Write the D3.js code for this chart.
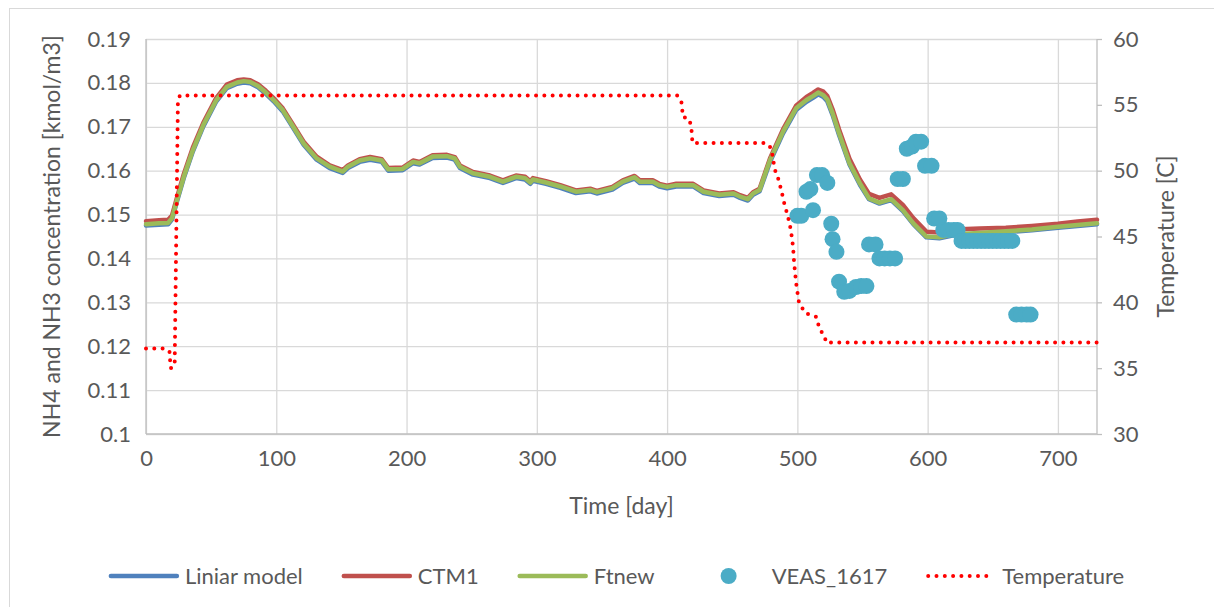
<!DOCTYPE html>
<meta charset="utf-8">
<style>

body { margin: 0; background: #fff; }
text { font-family: Lato, "Open Sans", sans-serif; fill: #595959; }
.grid line { stroke: #d9d9d9; stroke-width: 1.3px; }
.grid path { display: none; }
.axis path, .axis line { stroke: #bfbfbf; stroke-width: 1.3px; }
.series { fill: none; stroke-width: 4.5px; stroke-linejoin: round; stroke-linecap: round; }

</style>
<svg width="1214" height="607">
  <rect fill="#fff" width="100%" height="100%"></rect>
</svg>
<script src="https://d3js.org/d3.v7.min.js"></script>
<script>

// model runs (day -> kmol/m3)
var days = [0, 10, 17, 20, 24, 29, 36, 44, 54, 62,
    70, 75, 80, 86, 92, 98, 105, 113, 121, 131,
    141, 151, 155, 164, 172, 181, 186, 197, 205, 210,
    220, 231, 237, 241, 251, 264, 274, 284, 291, 295,
    297, 307, 318, 330, 341, 346, 358, 366, 375, 379,
    389, 394, 400, 407, 420, 428, 440, 451, 456, 462,
    466, 471, 479, 489, 499, 507, 512, 516, 520, 523,
    527, 532, 540, 548, 555, 563, 572, 581, 589, 599,
    609, 620, 640, 660, 680, 700, 715, 730];

var liniar = [0.1475, 0.1477, 0.1478, 0.1489, 0.1532, 0.1583, 0.1644, 0.1701, 0.1758, 0.1788,
    0.1798, 0.1801, 0.1799, 0.1790, 0.1775, 0.1758, 0.1735, 0.1697, 0.1659, 0.1625,
    0.1606, 0.1595, 0.1606, 0.1620, 0.1625, 0.1620, 0.1600, 0.1601, 0.1617, 0.1614,
    0.1629, 0.1630, 0.1625, 0.1606, 0.1591, 0.1583, 0.1572, 0.1583, 0.1580, 0.1570,
    0.1577, 0.1570, 0.1561, 0.1549, 0.1553, 0.1548, 0.1557, 0.1572, 0.1582, 0.1572,
    0.1572, 0.1564, 0.1560, 0.1564, 0.1564, 0.1549, 0.1542, 0.1545, 0.1538, 0.1532,
    0.1545, 0.1553, 0.1620, 0.1685, 0.1738, 0.1757, 0.1766, 0.1774, 0.1768, 0.1758,
    0.1727, 0.1681, 0.1614, 0.1568, 0.1535, 0.1525, 0.1533, 0.1508, 0.1478, 0.1448,
    0.1446, 0.1453, 0.1456, 0.1460, 0.1464, 0.1470, 0.1474, 0.1478];

var ctm1 = [0.1485, 0.1487, 0.1488, 0.1498, 0.1541, 0.1592, 0.1653, 0.1709, 0.1766, 0.1796,
    0.1806, 0.1808, 0.1806, 0.1797, 0.1782, 0.1765, 0.1742, 0.1704, 0.1666, 0.1632,
    0.1612, 0.1601, 0.1612, 0.1626, 0.1631, 0.1626, 0.1606, 0.1607, 0.1623, 0.1620,
    0.1635, 0.1636, 0.1631, 0.1612, 0.1597, 0.1589, 0.1578, 0.1589, 0.1586, 0.1576,
    0.1583, 0.1576, 0.1567, 0.1555, 0.1559, 0.1554, 0.1563, 0.1578, 0.1588, 0.1578,
    0.1578, 0.1570, 0.1566, 0.1570, 0.1570, 0.1555, 0.1548, 0.1551, 0.1544, 0.1538,
    0.1551, 0.1559, 0.1628, 0.1694, 0.1748, 0.1768, 0.1777, 0.1785, 0.1780, 0.1770,
    0.1740, 0.1694, 0.1627, 0.1580, 0.1547, 0.1538, 0.1546, 0.1522, 0.1492, 0.1461,
    0.1459, 0.1466, 0.1468, 0.1470, 0.1474, 0.1479, 0.1484, 0.1488];

var ftnew = [0.1478, 0.1480, 0.1481, 0.1492, 0.1535, 0.1586, 0.1647, 0.1704, 0.1761, 0.1791,
    0.1801, 0.1804, 0.1802, 0.1793, 0.1778, 0.1761, 0.1738, 0.1700, 0.1662, 0.1628,
    0.1609, 0.1598, 0.1609, 0.1623, 0.1628, 0.1623, 0.1603, 0.1604, 0.1620, 0.1617,
    0.1632, 0.1633, 0.1628, 0.1609, 0.1594, 0.1586, 0.1575, 0.1586, 0.1583, 0.1573,
    0.1580, 0.1573, 0.1564, 0.1552, 0.1556, 0.1551, 0.1560, 0.1575, 0.1585, 0.1575,
    0.1575, 0.1567, 0.1563, 0.1567, 0.1567, 0.1552, 0.1545, 0.1548, 0.1541, 0.1535,
    0.1548, 0.1556, 0.1624, 0.1689, 0.1742, 0.1761, 0.1770, 0.1778, 0.1772, 0.1762,
    0.1731, 0.1685, 0.1617, 0.1571, 0.1537, 0.1527, 0.1535, 0.1510, 0.1480, 0.1450,
    0.1448, 0.1455, 0.1458, 0.1462, 0.1466, 0.1472, 0.1476, 0.1480];

// measured samples
var veasDays = [500, 503, 507, 510, 515, 519, 523, 526, 527, 530,
    532, 536, 540, 545, 549, 553, 555, 560, 563, 567,
    571, 575, 577, 581, 584, 588, 591, 595, 598, 603,
    605, 609, 612, 616, 620, 623, 626, 629, 632, 635,
    638, 641, 644, 647, 650, 653, 656, 659, 662, 665,
    668, 672, 676, 679];
var veas = [0.1497, 0.1497, 0.1552, 0.1558, 0.1590, 0.1590, 0.1572, 0.1479, 0.1444, 0.1415,
    0.1347, 0.1324, 0.1326, 0.1335, 0.1337, 0.1337, 0.1432, 0.1432, 0.1400, 0.1400,
    0.1400, 0.1400, 0.1581, 0.1581, 0.1650, 0.1655, 0.1666, 0.1666, 0.1611, 0.1611,
    0.1491, 0.1491, 0.1465, 0.1465, 0.1465, 0.1465, 0.1440, 0.1440, 0.1440, 0.1440,
    0.1440, 0.1440, 0.1440, 0.1440, 0.1440, 0.1440, 0.1440, 0.1440, 0.1440, 0.1440,
    0.1272, 0.1272, 0.1272, 0.1272];
var veasExtra = [[512, 0.1510]];

// temperature profile, right axis
var tempDays = [0, 13, 18, 18.5, 19, 22, 24.5, 26, 408, 411,
    411.6, 412, 417, 418.6, 419, 419.5, 476, 480, 481, 482.6,
    485, 487.7, 490, 492.8, 495, 496.7, 497.5, 499, 501, 505.6,
    514.5, 517, 521, 522, 730];
var temperature = [36.5, 36.5, 36.3, 35.6, 35.0, 35.2, 55.3, 55.7, 55.7, 55.2,
    54.7, 54.1, 53.9, 53.3, 52.7, 52.1, 52.1, 51.7, 51.1, 50.1,
    49.5, 48.5, 47.5, 46.5, 45.5, 44.2, 43.0, 41.5, 40.1, 39.2,
    38.9, 38.0, 37.4, 36.95, 36.95];

var xTicks = [0, 100, 200, 300, 400, 500, 600, 700];
var yTicks = [0.1, 0.11, 0.12, 0.13, 0.14, 0.15, 0.16, 0.17, 0.18, 0.19];
var yTickLabels = ["0.1", "0.11", "0.12", "0.13", "0.14", "0.15", "0.16", "0.17", "0.18", "0.19"];
var tTicks = [30, 35, 40, 45, 50, 55, 60];

var pLeft = 146, pRight = 1097, pTop = 39, pBottom = 434;

var x = d3.scaleLinear().domain([0, 730]).range([pLeft, pRight]),
    y = d3.scaleLinear().domain([0.1, 0.19]).range([pBottom, pTop]),
    yT = d3.scaleLinear().domain([30, 60]).range([pBottom, pTop]);

var svg = d3.select("svg");

svg.append("rect")
    .attr("x", 9.5).attr("y", 8.5)
    .attr("width", 1220).attr("height", 620)
    .attr("fill", "none")
    .attr("stroke", "#d9d9d9");

// grid
svg.append("g")
    .attr("class", "grid")
    .attr("transform", "translate(" + pLeft + ",0)")
    .call(d3.axisLeft(y).tickValues(yTicks).tickSize(-(pRight - pLeft)).tickFormat(""));

svg.append("g")
    .attr("class", "grid")
    .attr("transform", "translate(0," + pBottom + ")")
    .call(d3.axisBottom(x).tickValues(xTicks).tickSize(-(pBottom - pTop)).tickFormat(""));

// axes
svg.append("g")
    .attr("class", "axis")
    .attr("transform", "translate(" + pLeft + ",0)")
    .call(d3.axisLeft(y).tickValues(yTicks).tickSize(0).tickPadding(15)
        .tickFormat(function(d, i) { return yTickLabels[i]; }))
  .select("path")
    .attr("d", "M0," + pTop + "V" + pBottom);

svg.append("g")
    .attr("class", "axis")
    .attr("transform", "translate(0," + pBottom + ")")
    .call(d3.axisBottom(x).tickValues(xTicks).tickSize(0).tickPadding(16))
  .select("path")
    .attr("d", "M" + pLeft + ",0H" + pRight);

svg.append("g")
    .attr("class", "axis")
    .attr("transform", "translate(" + pRight + ",0)")
    .call(d3.axisRight(yT).tickValues(tTicks).tickSize(5).tickPadding(11))
  .select("path")
    .attr("d", "M0," + pTop + "V" + pBottom);

svg.selectAll(".axis text")
    .style("font-size", "22px")
    .attr("fill", "#595959");

// titles
svg.append("text")
    .attr("transform", "translate(60," + ((pTop + pBottom) / 2) + ") rotate(-90)")
    .attr("text-anchor", "middle")
    .style("font-size", "23px")
    .text("NH4 and NH3 concentration [kmol/m3]");

svg.append("text")
    .attr("transform", "translate(1174," + ((pTop + pBottom) / 2) + ") rotate(-90)")
    .attr("text-anchor", "middle")
    .style("font-size", "23px")
    .text("Temperature [C]");

svg.append("text")
    .attr("x", (pLeft + pRight) / 2)
    .attr("y", 514)
    .attr("text-anchor", "middle")
    .style("font-size", "23px")
    .text("Time [day]");

// series
var line = d3.line()
    .x(function(d) { return x(d[0]); })
    .y(function(d) { return y(d[1]); });

var models = [
  {name: "Liniar model", color: "#4f81bd", values: liniar},
  {name: "CTM1", color: "#c0504d", values: ctm1},
  {name: "Ftnew", color: "#9bbb59", values: ftnew}
];

models.forEach(function(m) {
  svg.append("path")
      .datum(days.map(function(d, i) { return [d, m.values[i]]; }))
      .attr("class", "series")
      .attr("stroke", m.color)
      .attr("d", line);
});

var pts = veasDays.map(function(d, i) { return [d, veas[i]]; }).concat(veasExtra);

svg.append("g").selectAll("circle")
    .data(pts)
  .enter().append("circle")
    .attr("cx", function(d) { return x(d[0]); })
    .attr("cy", function(d) { return y(d[1]); })
    .attr("r", 8)
    .attr("fill", "#4bacc6");

var tLine = d3.line()
    .x(function(d) { return x(d[0]); })
    .y(function(d) { return yT(d[1]); });

svg.append("path")
    .datum(tempDays.map(function(d, i) { return [d, temperature[i]]; }))
    .attr("fill", "none")
    .attr("stroke", "#ff0000")
    .attr("stroke-width", 4)
    .attr("stroke-linecap", "round")
    .attr("stroke-dasharray", "0,8.3")
    .attr("d", tLine);

// legend
var legendItems = [
  {name: "Liniar model", type: "line", color: "#4f81bd"},
  {name: "CTM1", type: "line", color: "#c0504d"},
  {name: "Ftnew", type: "line", color: "#9bbb59"},
  {name: "VEAS_1617", type: "dot", color: "#4bacc6"},
  {name: "Temperature", type: "dash", color: "#ff0000"}
];

var legend = svg.append("g"),
    ly = 576,
    cx = 0;

legendItems.forEach(function(it) {
  var g = legend.append("g").attr("transform", "translate(" + cx + ",0)");
  if (it.type == "dot") {
    g.append("circle").attr("cx", 35).attr("cy", ly).attr("r", 8).attr("fill", it.color);
  } else {
    g.append("line")
        .attr("x1", 2).attr("x2", 68).attr("y1", ly).attr("y2", ly)
        .attr("stroke", it.color)
        .attr("stroke-width", it.type == "dash" ? 4 : 4.5)
        .attr("stroke-linecap", "round")
        .attr("stroke-dasharray", it.type == "dash" ? "0,8.3" : null);
  }
  var t = g.append("text")
      .attr("x", it.type == "dot" ? 78 : 76)
      .attr("y", ly + 8)
      .style("font-size", "22px")
      .text(it.name);
  cx += (it.type == "dot" ? 78 : 76) + t.node().getComputedTextLength() + 39;
});

legend.attr("transform", "translate(" + (616.5 - (cx - 39) / 2) + ",0)");

</script>
